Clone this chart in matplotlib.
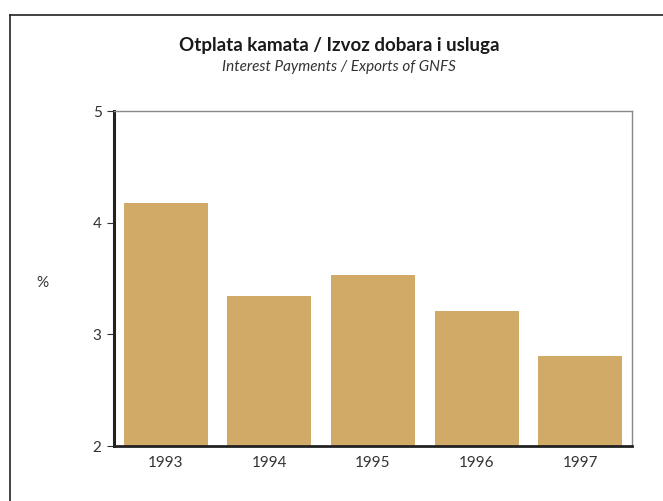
import matplotlib.pyplot as plt
from matplotlib.lines import Line2D

# Data
years = ['1993', '1994', '1995', '1996', '1997']
ratio = [4.18, 3.34, 3.53, 3.21, 2.81]

plt.rcParams['font.family'] = ['Lato', 'DejaVu Sans']

fig = plt.figure(figsize=(6.63, 5.01), dpi=100)
ax = fig.add_axes([114 / 663, 1 - 446 / 501, (632 - 114) / 663, (446 - 111) / 501])

ax.bar(range(len(years)), ratio, width=0.81, color='#D1AA68', bottom=0)
ax.set_xlim(-0.5, 4.5)
ax.set_ylim(2, 5)
ax.set_yticks([2, 3, 4, 5])
ax.set_xticks(range(len(years)))
ax.set_xticklabels(years)

# Spines: heavy left/bottom, light top/right
ax.spines['left'].set_linewidth(2.2)
ax.spines['left'].set_color('#222222')
ax.spines['bottom'].set_linewidth(2.0)
ax.spines['bottom'].set_color('#222222')
ax.spines['top'].set_linewidth(1.0)
ax.spines['top'].set_color('#888888')
ax.spines['right'].set_linewidth(1.0)
ax.spines['right'].set_color('#888888')

ax.tick_params(axis='y', direction='out', length=5, width=0.8, color='#333333',
               labelsize=11, labelcolor='#333333', pad=4)
ax.tick_params(axis='x', length=0, labelsize=11, labelcolor='#333333', pad=7)

fig.text(42 / 663, 1 - 283 / 501, '%', fontsize=11, color='#333333', ha='center', va='center')

# Titles
fig.text(339 / 663, 1 - 45 / 501, 'Otplata kamata / Izvoz dobara i usluga',
         fontsize=13.5, fontweight='bold', color='#1a1a1a', ha='center', va='center')
fig.text(339 / 663, 1 - 67 / 501, 'Interest Payments / Exports of GNFS',
         fontsize=11, style='italic', color='#333333', ha='center', va='center')

# Outer frame (left and top edges)
fig.add_artist(Line2D([10 / 663, 10 / 663], [0, 1 - 15 / 501], color='#222222', lw=1.2))
fig.add_artist(Line2D([10 / 663, 1], [1 - 15 / 501, 1 - 15 / 501], color='#222222', lw=1.2))

fig.savefig('out.png', dpi=100)
